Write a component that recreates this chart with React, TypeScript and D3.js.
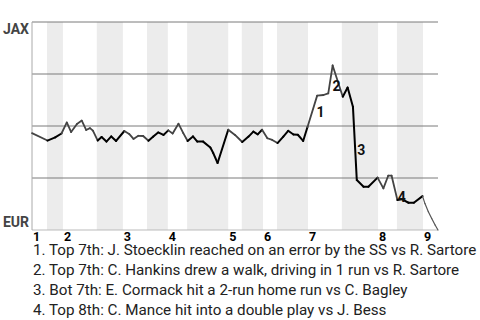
import React from 'react';
import * as d3 from 'd3';

// play index (0..84) and JAX win probability (%)
const playIdx = [0, 3.2, 4.8, 6.1, 7.2, 8.1, 9.3, 10.3, 11.2, 12.0, 12.6, 13.6, 14.4, 15.4, 16.4, 17.4, 19.1, 20.1, 21.0, 22.0, 23.0, 24.1, 25.1, 26.1, 27.2, 28.2, 29.1, 30.3, 31.3, 32.2, 33.3, 34.2, 35.4, 36.9, 37.5, 38.4, 40.6, 42.0, 43.5, 44.8, 45.8, 46.7, 47.6, 48.7, 49.7, 50.8, 52.0, 53.0, 54.1, 55.0, 56.1, 57.0, 59.0, 60.3, 61.3, 62.2, 64.3, 65.3, 66.4, 67.2, 68.6, 69.6, 71.5, 72.7, 73.7, 74.4, 75.6, 76.5, 77.9, 79.0, 80.8, 81.3, 82.0, 82.7, 83.4, 84.0];
const winProb = [46.6, 43.0, 44.5, 46.4, 51.7, 47.1, 51.0, 52.6, 48.1, 49.0, 47.8, 43.0, 44.7, 42.5, 45.0, 42.8, 47.6, 46.2, 43.8, 45.3, 45.2, 42.9, 44.9, 46.9, 45.7, 47.9, 46.4, 51.1, 46.6, 42.8, 45.0, 42.5, 42.5, 39.7, 37.0, 32.2, 48.2, 45.7, 42.3, 44.9, 47.3, 46.0, 48.2, 44.1, 43.3, 41.8, 44.9, 47.7, 45.9, 45.8, 42.8, 49.5, 64.6, 64.9, 65.7, 79.1, 64.1, 68.5, 59.3, 24.0, 20.8, 20.8, 25.2, 20.0, 26.1, 26.1, 14.4, 14.8, 13.1, 13.1, 16.3, 12.7, 8.8, 5.5, 2.4, 0];

// half-inning boundaries in play index
const halfInningBounds = [0, 3.1, 6.4, 13.4, 18.8, 23.8, 28.1, 32.1, 40.6, 43.4, 47.8, 50.7, 57.1, 64.1, 71.6, 75.5, 80.9, 84];
const inningLabels = ['1', '2', '3', '4', '5', '6', '7', '8', '9'];
const gridValues = [100, 75, 50, 25];
const teamTop = 'JAX';
const teamBottom = 'EUR';

const noteIds = ['1', '2', '3', '4'];
const noteIdx = [59.7, 63.0, 68.1, 76.5];
const noteWp = [56.9, 69.4, 38.5, 16.1];
const noteTexts = [
  '1. Top 7th: J. Stoecklin reached on an error by the SS vs R. Sartore',
  '2. Top 7th: C. Hankins drew a walk, driving in 1 run vs R. Sartore',
  '3. Bot 7th: E. Cormack hit a 2-run home run vs C. Bagley',
  '4. Top 8th: C. Mance hit into a double play vs J. Bess',
];

export default function App() {
  const W = 480, H = 320;
  const x = d3.scaleLinear().domain([0, 84]).range([32, 438]);
  const y = d3.scaleLinear().domain([0, 100]).range([230, 22]);
  const font = 'Roboto, "Noto Sans", sans-serif';

  const bands = [];
  for (let i = 1; i < halfInningBounds.length - 1; i += 2) {
    bands.push([halfInningBounds[i], halfInningBounds[i + 1]]);
  }
  const inBottom = (v: number) => {
    for (const b of bands) if (v >= b[0] && v < b[1]) return true;
    return false;
  };
  const segs = [];
  for (let i = 0; i < playIdx.length - 1; i++) {
    const mid = (playIdx[i] + playIdx[i + 1]) / 2;
    segs.push({ x1: playIdx[i], y1: winProb[i], x2: playIdx[i + 1], y2: winProb[i + 1], bottom: inBottom(mid), last: mid > 80.9 });
  }

  return (
    <svg width={W} height={H} style={{ position: 'absolute', left: 0, top: 0, background: '#fff' }}>
      {bands.map((b, i) => (
        <rect key={i} x={x(b[0])} y={y(100)} width={x(b[1]) - x(b[0])} height={y(0) - y(100)} fill="#ececec" />
      ))}
      {gridValues.map((g) => (
        <line key={g} x1={x(0)} x2={x(84)} y1={y(g)} y2={y(g)} stroke="#7a7a7a" strokeWidth={1} />
      ))}
      <line x1={x(0)} x2={x(84)} y1={y(0)} y2={y(0)} stroke="#bbb" strokeWidth={1} />
      <line x1={x(0)} x2={x(0)} y1={y(100)} y2={y(0)} stroke="#aaa" strokeWidth={1} />
      {segs.map((s, i) => (
        <line key={i} x1={x(s.x1)} y1={y(s.y1)} x2={x(s.x2)} y2={y(s.y2)}
          stroke={s.last ? '#555' : s.bottom ? '#000' : '#444'}
          strokeWidth={s.last ? 1.2 : s.bottom ? 2 : 1.8} strokeLinecap="round" />
      ))}
      <text x={29} y={34} textAnchor="end" fontFamily={font} fontWeight="bold" fontSize={14} fill="#444">{teamTop}</text>
      <text x={29} y={227} textAnchor="end" fontFamily={font} fontWeight="bold" fontSize={14} fill="#444">{teamBottom}</text>
      {inningLabels.map((l, i) => (
        <text key={l} x={x(halfInningBounds[2 * i]) + 1} y={240.5} fontFamily={font} fontWeight="bold" fontSize={12.5} fill="#000">{l}</text>
      ))}
      {noteIds.map((n, i) => (
        <text key={n} x={x(noteIdx[i])} y={y(noteWp[i])} textAnchor="middle" dominantBaseline="central" fontFamily={font} fontWeight="bold" fontSize={14} fill="#111">{n}</text>
      ))}
      {noteTexts.map((t, i) => (
        <text key={i} x={33} y={255 + i * 20} fontFamily={font} fontSize={15.2} fill="#222">{t}</text>
      ))}
    </svg>
  );
}
